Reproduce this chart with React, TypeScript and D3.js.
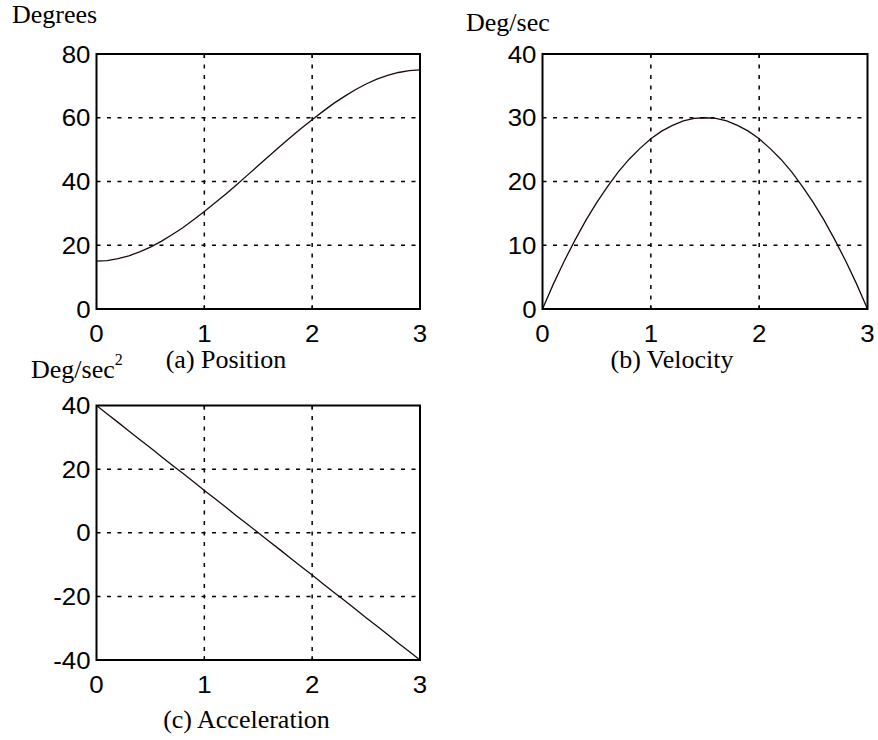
import * as d3 from "d3";

const times = [
  0, 0.1, 0.2, 0.3, 0.4, 0.5, 0.6, 0.7, 0.8, 0.9, 1, 1.1, 1.2, 1.3, 1.4, 1.5,
  1.6, 1.7, 1.8, 1.9, 2, 2.1, 2.2, 2.3, 2.4, 2.5, 2.6, 2.7, 2.8, 2.9, 3,
];

const position = [
  15, 15.2, 15.8, 16.7, 17.9, 19.4, 21.2, 23.3, 25.5, 28, 30.6, 33.3, 36.1, 39,
  42, 45, 48, 51, 53.9, 56.7, 59.4, 62, 64.5, 66.7, 68.8, 70.6, 72.1, 73.3,
  74.2, 74.8, 75,
];

const velocity = [
  0, 3.9, 7.5, 10.8, 13.9, 16.7, 19.2, 21.5, 23.5, 25.2, 26.7, 27.9, 28.8, 29.5,
  29.9, 30, 29.9, 29.5, 28.8, 27.9, 26.7, 25.2, 23.5, 21.5, 19.2, 16.7, 13.9,
  10.8, 7.5, 3.9, 0,
];

const acceleration = [
  40, 37.3, 34.7, 32, 29.3, 26.7, 24, 21.3, 18.7, 16, 13.3, 10.7, 8, 5.3, 2.7,
  0, -2.7, -5.3, -8, -10.7, -13.3, -16, -18.7, -21.3, -24, -26.7, -29.3, -32,
  -34.7, -37.3, -40,
];

const xTicks = [0, 1, 2, 3];
const positionTicks = [0, 20, 40, 60, 80];
const velocityTicks = [0, 10, 20, 30, 40];
const accelTicks = [-40, -20, 0, 20, 40];

const sansFont = "'Liberation Sans', Arial, sans-serif";
const serifFont = "'Liberation Serif', 'Times New Roman', serif";

type PanelProps = {
  left: number;
  right: number;
  top: number;
  bottom: number;
  values: number[];
  yTicks: number[];
};

function Panel({ left, right, top, bottom, values, yTicks }: PanelProps) {
  const x = d3.scaleLinear().domain([0, 3]).range([left, right]);
  const y = d3
    .scaleLinear()
    .domain([yTicks[0], yTicks[yTicks.length - 1]])
    .range([bottom, top]);

  const line = d3
    .line<number>()
    .x((_, i) => x(times[i]))
    .y((d) => y(d));

  const innerX = xTicks.slice(1, -1);
  const innerY = yTicks.slice(1, -1);

  return (
    <g>
      {innerX.map((t) => (
        <line
          key={`gx-${t}`}
          x1={x(t)}
          x2={x(t)}
          y1={top}
          y2={bottom}
          stroke="#000"
          strokeWidth={1.5}
          strokeDasharray="4,6.5"
        />
      ))}
      {innerY.map((t) => (
        <line
          key={`gy-${t}`}
          x1={left}
          x2={right}
          y1={y(t)}
          y2={y(t)}
          stroke="#000"
          strokeWidth={1.5}
          strokeDasharray="4,6.5"
        />
      ))}
      {innerX.map((t) => (
        <g key={`tx-${t}`}>
          <line x1={x(t)} x2={x(t)} y1={bottom} y2={bottom - 4} stroke="#000" strokeWidth={1.2} />
          <line x1={x(t)} x2={x(t)} y1={top} y2={top + 4} stroke="#000" strokeWidth={1.2} />
        </g>
      ))}
      <path
        d={line(values) ?? ""}
        fill="none"
        stroke="#1a0a0a"
        strokeWidth={1.3}
      />
      <rect
        x={left}
        y={top}
        width={right - left}
        height={bottom - top}
        fill="none"
        stroke="#000"
        strokeWidth={2}
      />
      {xTicks.map((t) => (
        <text
          key={`lx-${t}`}
          transform={`translate(${x(t)},${bottom + 33}) scale(1.1,1)`}
          textAnchor="middle"
          fontFamily={sansFont}
          fontSize={23.5}
          fill="#000"
        >
          {t}
        </text>
      ))}
      {yTicks.map((t) => (
        <text
          key={`ly-${t}`}
          transform={`translate(${left - 6},${y(t) + 8.5}) scale(1.1,1)`}
          textAnchor="end"
          fontFamily={sansFont}
          fontSize={23.5}
          fill="#000"
        >
          {t}
        </text>
      ))}
    </g>
  );
}

export default function App() {
  return (
    <svg
      width={878}
      height={740}
      style={{ position: "absolute", left: 0, top: 0, background: "#fff" }}
    >
      <rect width={878} height={740} fill="#fff" />
      <Panel left={96.5} right={420} top={54} bottom={309} values={position} yTicks={positionTicks} />
      <Panel left={542.5} right={867.5} top={54} bottom={309} values={velocity} yTicks={velocityTicks} />
      <Panel left={96.5} right={420} top={405.5} bottom={660} values={acceleration} yTicks={accelTicks} />

      <g fontFamily={serifFont} fontSize={26} fill="#000">
        <text x={12} y={22.5}>Degrees</text>
        <text x={466} y={30.5}>Deg/sec</text>
        <text x={31} y={378}>
          Deg/sec
          <tspan fontSize={16} dy={-13}>2</tspan>
        </text>
        <text x={226} y={367.5} textAnchor="middle">(a) Position</text>
        <text x={672} y={367.5} textAnchor="middle">(b) Velocity</text>
        <text x={246.5} y={728} textAnchor="middle">(c) Acceleration</text>
      </g>
    </svg>
  );
}
